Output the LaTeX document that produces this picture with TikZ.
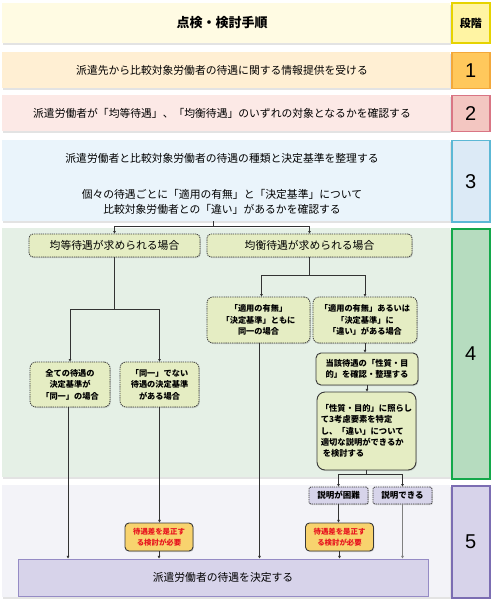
\documentclass[tikz,border=0pt]{standalone}
\usepackage{fontspec}
\setmainfont{Noto Sans CJK JP}
\newfontfamily\numfont{Liberation Sans}
\usetikzlibrary{arrows.meta,shadows,calc}
\definecolor{headbg}{HTML}{FFFBE3}
\definecolor{headnumfill}{HTML}{FFF4A3}
\definecolor{headnumline}{HTML}{E6D300}
\definecolor{rAbg}{HTML}{FFEFD3}
\definecolor{rAfill}{HTML}{FFC85C}
\definecolor{rAline}{HTML}{F3A83A}
\definecolor{rBbg}{HTML}{FCE9E6}
\definecolor{rBfill}{HTML}{F3C6C1}
\definecolor{rBline}{HTML}{D97584}
\definecolor{rCbg}{HTML}{EAF4FB}
\definecolor{rCfill}{HTML}{DCEAF6}
\definecolor{rCline}{HTML}{5CB8D5}
\definecolor{rDbg}{HTML}{E5F0E6}
\definecolor{rDfill}{HTML}{B6DCBF}
\definecolor{rDline}{HTML}{13A84A}
\definecolor{rEbg}{HTML}{F3F3F8}
\definecolor{rEfill}{HTML}{D7D3EA}
\definecolor{rEline}{HTML}{7B6DB2}
\definecolor{boxfill}{HTML}{E5EDC3}
\definecolor{boxline}{HTML}{383838}
\definecolor{lavfill}{HTML}{D7D4EA}
\definecolor{warnfill}{HTML}{F8D36E}
\definecolor{warntext}{HTML}{E8141E}
\definecolor{finalline}{HTML}{958BC5}
\definecolor{conline}{HTML}{333333}
\begin{document}
\begin{tikzpicture}[x=1pt,y=-1pt,
  rowbg/.style={draw=none, anchor=north west, inner sep=0pt,
    drop shadow={shadow xshift=0.8pt,shadow yshift=-1.4pt,opacity=0.22}},
  numbox/.style={line width=1.5pt, anchor=north west, inner sep=0pt,
    minimum width=38pt, font=\numfont\fontsize{20}{20}\selectfont},
  rowtext/.style={font=\fontsize{10.8}{15}\selectfont, align=center},
  dbox/.style={draw=boxline, fill=boxfill, rounded corners=4pt,
    dash pattern=on 1.3pt off 0.9pt, line width=0.8pt, inner sep=0pt,
    drop shadow={shadow xshift=0.8pt,shadow yshift=-1pt,opacity=0.3},
    align=center},
  sbox/.style={draw=boxline, fill=boxfill, rounded corners=5pt,
    line width=0.9pt, inner sep=0pt,
    drop shadow={shadow xshift=0.8pt,shadow yshift=-1pt,opacity=0.3},
    font=\bfseries\fontsize{8.3}{11.3}\selectfont},
  small/.style={font=\bfseries\fontsize{8.2}{11.5}\selectfont},
  lbox/.style={draw=boxline, fill=lavfill, rounded corners=2pt,
    dash pattern=on 1.3pt off 0.9pt, line width=0.8pt, inner sep=0pt,
    minimum width=59pt, minimum height=17pt,
    drop shadow={shadow xshift=0.8pt,shadow yshift=-1pt,opacity=0.3},
    font=\bfseries\fontsize{8.5}{10}\selectfont},
  wbox/.style={draw=boxline, fill=warnfill, rounded corners=4pt,
    line width=0.9pt, inner sep=0pt, minimum width=68pt, minimum height=28pt,
    align=center, text=warntext,
    drop shadow={shadow xshift=0.8pt,shadow yshift=-1pt,opacity=0.3},
    font=\bfseries\fontsize{7.4}{10.5}\selectfont},
  line/.style={draw=conline, line width=0.7pt},
  arr/.style={line, -{Triangle[length=2.6pt,width=2.6pt]}}
]
\fill[white] (0,0) rectangle (493,604);
\useasboundingbox (0,0) rectangle (493,604);

% row backgrounds
\node[rowbg, fill=headbg, minimum width=448pt, minimum height=40pt] (r0) at (2,3) {};
\node[rowbg, fill=rAbg, minimum width=448pt, minimum height=36pt] (r1) at (2,52) {};
\node[rowbg, fill=rBbg, minimum width=448pt, minimum height=36pt] (r2) at (2,95) {};
\node[rowbg, fill=rCbg, minimum width=448pt, minimum height=81pt] (r3) at (2,140) {};
\node[rowbg, fill=rDbg, minimum width=448pt, minimum height=249pt] (r4) at (2,228) {};
\node[rowbg, fill=rEbg, minimum width=448pt, minimum height=112pt] (r5) at (2,485) {};

% number boxes
\node[numbox, draw=headnumline, fill=headnumfill, line width=1.8pt, minimum height=40pt,
  font=\bfseries\fontsize{11}{11}\selectfont] (n0) at (451,2) {段階};
\node[numbox, draw=rAline, fill=rAfill, minimum height=36pt] (n1) at (451,52) {1};
\node[numbox, draw=rBline, fill=rBfill, minimum height=36pt] (n2) at (451,95) {2};
\node[numbox, draw=rCline, fill=rCfill, minimum height=81pt] (n3) at (451,140) {3};
\node[numbox, draw=rDline, fill=rDfill, minimum height=250pt] (n4) at (451,228) {4};
\node[numbox, draw=rEline, fill=rEfill, minimum height=112pt] (n5) at (451,485) {5};

% row texts
\node[font=\bfseries\fontsize{13}{13}\selectfont] (t0) at (222,23) {点検・検討手順};
\node[rowtext] (t1) at (222,70) {派遣先から比較対象労働者の待遇に関する情報提供を受ける};
\node[rowtext] (t2) at (222,113) {派遣労働者が「均等待遇」、「均衡待遇」のいずれの対象となるかを確認する};
\node[rowtext] (t3a) at (222,158) {派遣労働者と比較対象労働者の待遇の種類と決定基準を整理する};
\node[rowtext] (t3b) at (222,201.5) {個々の待遇ごとに「適用の有無」と「決定基準」について\\比較対象労働者との「違い」があるかを確認する};

% step 4 boxes
\node[dbox, minimum width=171pt, minimum height=23pt, font=\fontsize{10.8}{12}\selectfont]
  (kinto) at (114.5,245.5) {均等待遇が求められる場合};
\node[dbox, minimum width=205pt, minimum height=23pt, font=\fontsize{10.8}{12}\selectfont]
  (kinko) at (309.5,245.5) {均衡待遇が求められる場合};
\node[dbox, small, minimum width=80pt, minimum height=45pt, rounded corners=6pt]
  (a1) at (70,384.5) {全ての待遇の\\決定基準が\\「同一」の場合};
\node[dbox, small, minimum width=79pt, minimum height=45pt, rounded corners=6pt]
  (a2) at (159.5,384.5) {「同一」でない\\待遇の決定基準\\がある場合};
\node[dbox, small, minimum width=103pt, minimum height=46pt, rounded corners=6pt]
  (b1) at (258.5,320) {「適用の有無」\\「決定基準」ともに\\同一の場合};
\node[dbox, small, minimum width=104pt, minimum height=46pt, rounded corners=6pt]
  (b2) at (365,320) {「適用の有無」あるいは\\「決定基準」に\\「違い」がある場合};
\node[sbox, align=center, minimum width=102pt, minimum height=32pt]
  (c1) at (367,369) {当該待遇の「性質・目\\的」を確認・整理する};
\node[sbox, align=left, rounded corners=8pt, minimum width=99pt, minimum height=78pt]
  (c2) at (366.5,431) {「性質・目的」に照らし\\て3考慮要素を特定\\し、「違い」について\\適切な説明ができるか\\\ を検討する};

% step 5 boxes
\node[lbox] (d1) at (338.5,495.5) {説明が困難};
\node[lbox] (d2) at (402.5,495.5) {説明できる};
\node[wbox] (e1) at (159,537) {待遇差を是正す\\る検討が必要};
\node[wbox] (e2) at (339.5,537) {待遇差を是正す\\る検討が必要};
\node[draw=finalline, fill=rEfill, line width=1pt, inner sep=0pt,
  minimum width=410pt, minimum height=37pt, font=\fontsize{10.8}{12}\selectfont]
  (final) at (223,577.5) {派遣労働者の待遇を決定する};

% connectors
\coordinate (s3) at (213,221);
\coordinate (j0) at (213,226.5);
\draw[line] (s3) -- (j0);
\draw[arr] (j0) -| (kinto.north);
\draw[arr] (j0) -| (kinko.north);

\coordinate (j1) at ($(kinto.south)+(0,52)$);
\draw[line] (kinto.south) -- (j1);
\draw[arr] (j1) -| (a1.north);
\draw[arr] (j1) -| (a2.north);

\coordinate (j2) at ($(kinko.south)+(0,18)$);
\coordinate (b1in) at ($(b1.north)+(3,0)$);
\draw[line] (kinko.south) -- (j2);
\draw[arr] (j2) -| (b1in);
\draw[arr] (j2) -| (b2.north);

\draw[arr] (b2.south) -- (b2.south |- c1.north);
\draw[arr] (c1.south) -- (c1.south |- c2.north);

\coordinate (j3) at ($(c2.south)+(0,4)$);
\draw[line] (c2.south) -- (j3);
\draw[arr] (j3) -| (d1.north);
\draw[arr] (j3) -| (d2.north);

\coordinate (a1out) at ($(a1.south)+(-2,0)$);
\coordinate (b1out) at ($(b1.south)+(1,0)$);
\draw[arr] (a1out) -- (a1out |- final.north);
\draw[arr] (a2.south) -- (a2.south |- e1.north);
\draw[arr] (e1.south) -- (e1.south |- final.north);
\draw[arr] (b1out) -- (b1out |- final.north);
\draw[arr] (d1.south) -- (d1.south |- e2.north);
\draw[arr] (e2.south) -- (e2.south |- final.north);
\draw[arr, draw=gray] (d2.south) -- (d2.south |- final.north);
\end{tikzpicture}
\end{document}
